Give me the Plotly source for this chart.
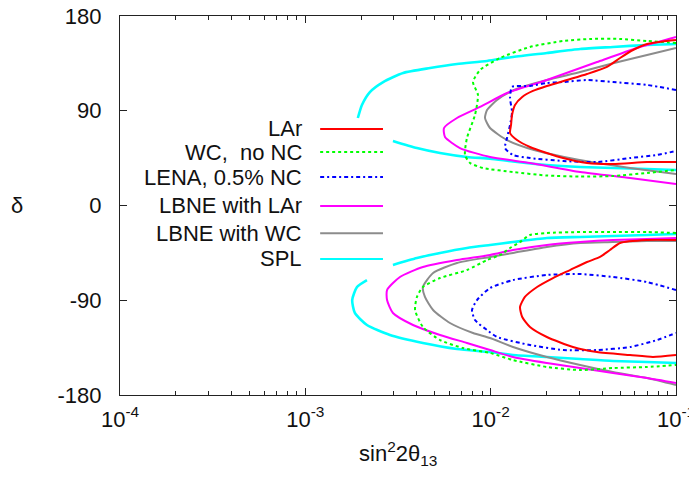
import plotly.graph_objects as go

# ---------------- data (sin^2 2theta13, delta in degrees) ----------------
names = ["LAr", "WC,  no NC", "LENA, 0.5% NC", "LBNE with LAr", "LBNE with WC", "SPL"]
colors = ["#ff0000", "#00ff00", "#0000ff", "#ff00ff", "#8c8c8c", "#00ffff"]
dashes = ["solid", "dot", "4px,3px,2px,3px", "solid", "solid", "solid"]
widths = [2, 2, 2, 2, 2, 2.6]

# upper (delta > 0) contours
lar_top_x = [0.1, 0.0894, 0.0698, 0.0586, 0.0499, 0.0424, 0.0331, 0.0258, 0.0201, 0.0169, 0.0148, 0.01353,
             0.01304, 0.01288, 0.01272, 0.01387, 0.0163, 0.0201, 0.0246, 0.0331, 0.0457, 0.0698, 0.1]
lar_top_d = [157.2, 156.3, 153.4, 147.7, 140.1, 131.6, 124.9, 119.2, 113.5, 108.8, 103.1, 95.5,
             86.0, 76.5, 68.9, 62.2, 55.6, 49.9, 45.1, 40.4, 39.4, 41.3, 41.3]

wc_top_x = [0.1, 0.0698, 0.0499, 0.0344, 0.0246, 0.0163, 0.01123, 0.00876, 0.00803, 0.00854, 0.00823,
            0.00745, 0.00727, 0.00774, 0.00909, 0.0132, 0.0201, 0.0304, 0.0457, 0.0698, 0.1]
wc_top_d = [154.4, 156.3, 158.2, 158.2, 156.3, 150.6, 140.1, 128.7, 117.3, 105.0, 86.0,
            64.1, 48.0, 40.4, 35.6, 31.8, 28.5, 27.5, 28.0, 30.9, 33.7]

lena_top_x = [0.1, 0.0698, 0.0457, 0.0331, 0.0246, 0.0201, 0.0163, 0.01304, 0.01272, 0.01304, 0.01272,
              0.01225, 0.01195, 0.0132, 0.0163, 0.0246, 0.0375, 0.0565, 0.079, 0.1]
lena_top_d = [109.7, 114.5, 117.3, 119.2, 117.3, 116.4, 113.5, 112.6, 102.1, 88.8, 76.5,
              64.1, 54.6, 48.0, 45.1, 42.3, 41.3, 45.1, 48.0, 51.8]

lbl_top_x = [0.1, 0.0616, 0.0375, 0.0201, 0.01225, 0.00876, 0.00658, 0.0056, 0.00567, 0.00683, 0.00992,
             0.0163, 0.0304, 0.0565, 0.1]
lbl_top_d = [160.1, 149.6, 136.3, 119.2, 106.9, 93.6, 83.1, 73.6, 65.1, 54.6, 46.1,
             40.4, 31.8, 26.1, 20.4]

lbw_top_x = [0.1, 0.0698, 0.0463, 0.0304, 0.0201, 0.01337, 0.01082, 0.00956, 0.00932, 0.00992, 0.01225,
             0.01714, 0.0249, 0.0375, 0.0565, 0.1]
lbw_top_d = [149.6, 143.0, 135.4, 126.8, 119.2, 109.7, 100.2, 90.7, 83.1, 73.6, 62.2,
             52.7, 46.1, 40.4, 35.6, 29.9]

spl_top_x = [0.1, 0.0698, 0.0457, 0.0304, 0.0201, 0.0132, 0.00956, 0.00658, 0.00471, 0.00337, 0.00263,
             0.00223, 0.00202, 0.00192, None, 0.00297, 0.004, 0.00533, 0.00745, 0.00992, 0.0132,
             0.0201, 0.0304, 0.0457, 0.0698, 0.1]
spl_top_d = [153.4, 152.5, 150.6, 148.7, 144.9, 141.1, 137.3, 134.4, 130.6, 125.9, 117.3,
             107.8, 95.5, 83.1, None, 61.3, 54.6, 49.9, 46.1, 44.5, 41.8,
             38.5, 36.6, 35.6, 34.7, 33.7]

# lower (delta < 0) contours
lar_bot_x = [0.1, 0.0698, 0.0499, 0.044, 0.0389, 0.0331, 0.0268, 0.0217, 0.0178, 0.0153, 0.0144,
             0.0148, 0.0163, 0.0201, 0.0278, 0.0375, 0.0565, 0.0751, 0.1]
lar_bot_d = [-32.8, -32.8, -35.6, -42.3, -48.9, -53.7, -61.3, -68.9, -77.4, -86.9, -96.4,
             -105.9, -115.4, -124.9, -134.4, -139.2, -142.0, -143.9, -142.0]

wc_bot_x = [0.1, 0.0698, 0.0457, 0.0304, 0.0201, 0.0163, 0.0144, 0.01272, 0.01123, 0.00956, 0.00745,
            0.00533, 0.00431, 0.004, 0.00391, 0.00431, 0.00533, 0.00709, 0.00992, 0.0132, 0.0201,
            0.0304, 0.0457, 0.0698, 0.1]
wc_bot_d = [-26.1, -25.2, -25.2, -25.2, -26.1, -28.0, -34.7, -40.4, -47.0, -51.8, -61.3,
            -68.9, -77.4, -86.9, -99.3, -115.4, -127.8, -135.4, -140.1, -146.8, -153.4,
            -156.3, -154.4, -153.4, -151.5]

lena_bot_x = [0.1, 0.0698, 0.0457, 0.0304, 0.0201, 0.0132, 0.00992, 0.00844, 0.00793, 0.00823, 0.00956,
              0.01082, 0.0163, 0.0246, 0.0375, 0.0565, 0.079, 0.1]
lena_bot_d = [-80.3, -72.7, -67.9, -65.1, -66.0, -70.8, -78.4, -89.8, -99.3, -108.8, -118.3,
              -124.9, -132.5, -137.3, -137.3, -134.4, -127.8, -121.1]

lbl_bot_x = [0.1, 0.0698, 0.0457, 0.0304, 0.0201, 0.0132, 0.00992, 0.00658, 0.00431, 0.00324, 0.00276,
             0.00276, 0.00297, 0.00381, 0.00533, 0.00745, 0.00992, 0.0132, 0.0201, 0.0304, 0.0457,
             0.0698, 0.1]
lbl_bot_d = [-30.9, -31.8, -32.8, -34.7, -37.5, -42.3, -47.0, -51.8, -58.4, -67.9, -80.3,
             -89.8, -102.1, -113.5, -123.0, -130.6, -137.3, -143.9, -149.6, -154.4, -159.1,
             -163.9, -168.6]

lbw_bot_x = [0.1, 0.0698, 0.0457, 0.0304, 0.0201, 0.0132, 0.00992, 0.00658, 0.00489, 0.00431, 0.00442,
             0.00489, 0.00603, 0.00803, 0.00992, 0.0132, 0.0201, 0.0304, 0.0457, 0.0698, 0.1]
lbw_bot_d = [-33.7, -33.7, -34.7, -35.6, -39.4, -45.1, -48.9, -54.6, -64.1, -77.4, -86.9,
             -99.3, -111.6, -121.1, -125.9, -134.4, -143.9, -151.5, -158.2, -163.9, -170.5]

spl_bot_x = [0.1, 0.0698, 0.0457, 0.0304, 0.0201, 0.0132, 0.00992, 0.00745, 0.00533, 0.004, 0.00297,
             None, 0.00215, 0.0019, 0.00179, 0.00185, 0.00215, 0.00286, 0.00431, 0.00658, 0.00992,
             0.0132, 0.0201, 0.0304, 0.0457, 0.0698, 0.1]
spl_bot_d = [-27.1, -28.0, -29.0, -29.9, -30.9, -34.7, -37.5, -40.4, -45.1, -49.9, -56.5,
             None, -70.8, -77.4, -89.8, -102.1, -113.5, -123.0, -130.6, -136.3, -139.2,
             -142.0, -143.9, -145.8, -147.7, -148.7, -149.6]

top_x = [lar_top_x, wc_top_x, lena_top_x, lbl_top_x, lbw_top_x, spl_top_x]
top_d = [lar_top_d, wc_top_d, lena_top_d, lbl_top_d, lbw_top_d, spl_top_d]
bot_x = [lar_bot_x, wc_bot_x, lena_bot_x, lbl_bot_x, lbw_bot_x, spl_bot_x]
bot_d = [lar_bot_d, wc_bot_d, lena_bot_d, lbl_bot_d, lbw_bot_d, spl_bot_d]

x_tick_vals = [1e-4, 1e-3, 1e-2, 1e-1]
x_tick_text = ["10<sup>-4</sup>", "10<sup>-3</sup>", "10<sup>-2</sup>", "10<sup>-1</sup>"]
y_tick_vals = [-180, -90, 0, 90, 180]
y_tick_text = ["-180", "-90", "0", "90", "180"]

# ---------------- figure ----------------
FONT = "Liberation Sans, Arial, sans-serif"
fig = go.Figure()

# draw order: SPL first, LAr last (on top)
for i in reversed(range(len(names))):
    xs = top_x[i] + [None] + bot_x[i]
    ds = top_d[i] + [None] + bot_d[i]
    fig.add_trace(go.Scatter(
        x=xs, y=ds, mode="lines", name=names[i], showlegend=False,
        line=dict(color=colors[i], width=widths[i], dash=dashes[i], shape="spline", smoothing=0.6),
        connectgaps=False, hoverinfo="skip"))

# minor ticks positions for log axis
minor_vals = [m * 10.0 ** e for e in (-4, -3, -2) for m in range(2, 10)]

# the page body carries an 8px default margin, so the figure is 8px smaller
# and the left/top margins are reduced by the same amount
fig.update_layout(
    width=689, height=469,
    margin=dict(l=112, r=21, t=8, b=82, autoexpand=False),
    paper_bgcolor="white", plot_bgcolor="white",
    font=dict(family=FONT, size=22, color="#111111"),
    xaxis=dict(type="log", range=[-4, -1], showgrid=False, zeroline=False, automargin=False,
               showline=True, linecolor="#222222", linewidth=1.2, mirror="ticks",
               ticks="inside", ticklen=7, tickwidth=1.2, tickcolor="#222222",
               tickvals=x_tick_vals, ticktext=x_tick_text, ticklabelstandoff=4,
               ticklabeloverflow="allow",
               minor=dict(tickvals=minor_vals, ticks="inside", ticklen=4, tickwidth=1.2,
                          tickcolor="#222222", showgrid=False)),
    yaxis=dict(range=[-180, 180], showgrid=False, zeroline=False, automargin=False,
               showline=True, linecolor="#222222", linewidth=1.2, mirror="ticks",
               ticks="inside", ticklen=7, tickwidth=1.2, tickcolor="#222222",
               tickvals=y_tick_vals, ticktext=y_tick_text, ticklabelstandoff=13,
               ticklabeloverflow="allow"),
)

# axis titles
fig.add_annotation(text="δ", xref="paper", yref="paper", x=-0.185, y=0.5,
                   showarrow=False, font=dict(size=22, family=FONT), xanchor="center", yanchor="middle")
fig.add_annotation(text="sin<sup>2</sup>2θ<sub>13</sub>", xref="paper", yref="paper", x=0.5, y=-0.155,
                   showarrow=False, font=dict(size=22, family=FONT), xanchor="center", yanchor="middle")

# gnuplot-style key: text right-aligned, sample line to the right
key_y = [0.702, 0.641, 0.575, 0.499, 0.427, 0.359]
for i, nm in enumerate(names):
    fig.add_annotation(text=nm, xref="paper", yref="paper", x=0.331, y=key_y[i],
                       showarrow=False, xanchor="right", yanchor="middle",
                       font=dict(size=22, family=FONT))
    fig.add_shape(type="line", xref="paper", yref="paper", x0=0.360, x1=0.473,
                  y0=key_y[i], y1=key_y[i],
                  line=dict(color=colors[i], width=2, dash=dashes[i]))

fig.write_html("out.html")
